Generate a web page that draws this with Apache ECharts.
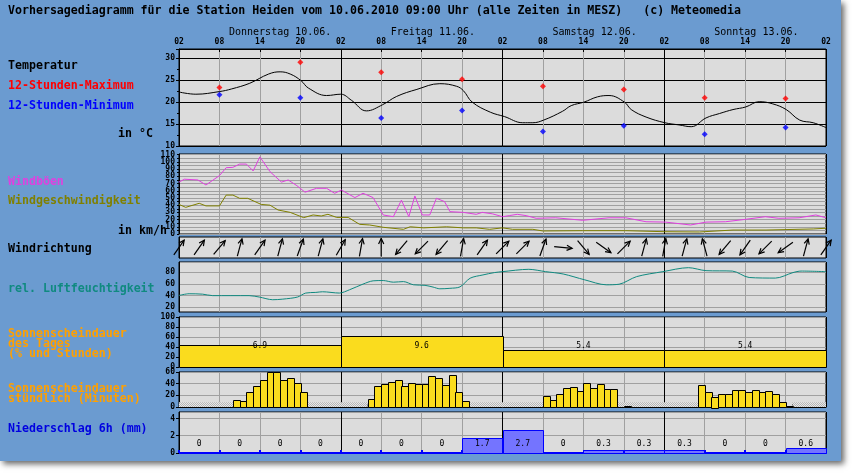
<!DOCTYPE html>
<html><head><meta charset="utf-8">
<script src="https://cdn.jsdelivr.net/npm/echarts/dist/echarts.min.js"></script>
<style>
html,body{margin:0;padding:0;background:#fff;}
#frame{position:absolute;left:0;top:0;width:841px;height:461px;background:#6b9bd0;box-shadow:3px 3px 6px rgba(0,0,0,0.6);}
#c{position:absolute;left:0;top:0;width:852px;height:475px;}
</style>
</head><body><div id="frame"></div><div id="c"></div>
<script>
// ---------- data (hours since Thu 10.06. 02:00 MESZ) ----------
const tempHours = [0,2.5,6,7.8,10.5,13.3,15,16.5,18.1,19.2,21.9,24,25.6,27.8,30.2,32.3,35.3,38.7,41.2,42.2,43.5,46.2,48.3,51,52.5,54.1,56.9,58.2,60.1,62.1,63.8,66.1,67.1,69.3,72.1,74.2,76,78.2,80.2,82.2,84.1,86.1,88.1,90.1,92.1,94.1,96];
const tempValues = [22.3,21.8,22.4,23,24.3,26.4,26.9,26.4,24.9,23.2,21.5,21.8,20.4,18,19.4,21.3,22.9,24.2,23.6,22.6,20,17.7,16.7,15.3,15.3,15.9,17.9,19.2,20,21.2,21.5,20,18.3,16.6,15.3,14.8,14.4,16.4,17.4,18.3,18.9,20.1,19.6,18.3,15.9,15.3,14.2];
const extremeHours = [6,18,30,42,54,66,78,90];
const maxValues = [23.3,29.1,26.8,25.2,23.6,22.9,21.0,20.8];
const minValues = [21.7,21.0,16.4,18.1,13.3,14.6,12.7,14.2];

const gustHours = [0,0.8,2.8,4,6,7,8,9,10,11,12,13.5,15.2,16.2,17.5,18.7,20.4,21.9,23.1,24.1,26.1,27.3,28.8,30.3,31.8,33,34.1,35,36.1,37.2,38.2,39.4,40.2,42.2,44.1,45,46.5,48,49,50.2,51.5,53,55.9,59.9,63.8,66.3,69.3,72.2,75.9,78.2,81.1,84.1,87,89,92,94.5,96];
const gustValues = [72,76,75,68,81,92,92.5,97,97,87.5,107,86.5,72,75,67,58,63.4,63.4,56.5,61,50.5,56.5,50.5,26.4,24,47,24,52.8,26.4,26.4,49.5,45,31,30,27.3,30,28,24,25.5,27.3,25.5,21.8,22.5,19,22.5,22.5,17,16.5,12.5,16.5,17,20.4,24,21.8,22.5,26.4,22.5];
const windHours = [0,1,3,4,6,7,8,9,10.2,12.2,13.5,14.7,16.5,18.5,19.9,21.1,22.1,23.4,25.1,26.8,28.3,30.3,33.3,34.3,36.3,39.7,42.2,44.1,46.1,48,49.5,52.5,54,59.9,66.3,72,77.2,82.2,87.1,94.1,96];
const windValues = [41,37,42.6,39,39,54,54,49.5,49.5,41,40,33.3,30,22.7,26.4,25,27.3,23,23,13.4,12.5,9.3,6.5,10,8.5,10,8.5,8.5,6.5,8.5,6.5,6.5,4.2,4.6,4.6,3.2,2.8,5.5,5.5,7,8];

const dirHours = [0,3,6,9,12,15,18,21,24,27,30,33,36,39,42,45,48,51,54,57,60,63,66,69,72,75,78,81,84,87,90,93,96];
const dirAngles = [35,35,40,15,35,15,20,15,30,10,0,220,225,220,10,35,45,45,20,95,140,125,45,15,10,15,345,220,215,225,235,15,35];

const humHours = [0,1.5,3.5,5,10.4,11.9,13.9,15.4,17.6,18.8,20.3,21.3,23.8,25.3,27.3,28.8,30.3,31.8,33.3,34.8,36.5,37.7,38.7,40.2,41.7,43.2,45.1,46.8,48,51.9,54.4,57,60.2,63.4,65.3,67.9,71.8,75.6,78.2,82.1,84.6,88.5,91.1,92.3,96];
const humValues = [40.3,43.2,42.5,40,40,37.6,33,34,37.6,44.4,45.5,46.6,44.4,50,59.7,65.3,65.8,63,64,58.5,57.6,54.6,51.7,52.5,55,69.8,75.4,79.4,81,85,81,77,67,58.5,59.5,72.5,81,87.8,82.7,82,71,70,79.4,82,81];

const dayStarts = [0,24,48,72];
const daySunPercent = [44,62,34,34];
const daySunLabels = ['6.9','9.6','5.4','5.4'];

const sunHourStarts = [8,9,10,11,12,13,14,15,16,17,18, 28,29,30,31,32,33,34,35,36,37,38,39,40,41,42, 54,55,56,57,58,59,60,61,62,63,64,66, 77,78,79,80,81,82,83,84,85,86,87,88,89,90];
const sunMinutes = [12,10,26,36,46,60,60,47,50,41,26, 14,36,40,43,47,36,41,40,40,53,50,37,55,26,10, 19,12,23,32,35,28,41,33,39,31,31,2, 38,26,18,22,23,29,29,26,29,26,28,23,8,2];
const nightStarts = [0,19,43,65,91];
const nightEnds = [8,28,54,77,96];

const precipStarts = [0,6,12,18,24,30,36,42,48,54,60,66,72,78,84,90];
const precipValues = [0,0,0,0,0,0,0,1.7,2.7,0,0.3,0.3,0.3,0,0,0.6];

const dayNames = ['Donnerstag 10.06.','Freitag 11.06.','Samstag 12.06.','Sonntag 13.06.'];
const tickHoursLabel = function(h){ const c=(h+2)%24; return (c<10?'0':'')+c; };

// ---------- layout ----------
const X0 = 179, XW = 647;
const panels = [
  {top:49, h:97}, {top:154, h:80}, {top:237, h:21}, {top:262, h:50},
  {top:317, h:50}, {top:372, h:35}, {top:412, h:41}
];
const MONO = 'DejaVu Sans Mono';
const PANEL_BG = '#dcdcdc';
const GRAYL = '#a0a0a0';
const labelStyle = {color:'#000', fontSize:8, fontFamily:MONO, fontWeight:'bold', margin:4};

// stipple pattern for night hours
const pc = document.createElement('canvas'); pc.width = 2; pc.height = 2;
const pctx = pc.getContext('2d');
pctx.fillStyle = '#e8e8e8'; pctx.fillRect(0,0,2,2);
pctx.fillStyle = '#b4b4b4'; pctx.fillRect(0,0,1,1); pctx.fillRect(1,1,1,1);

const grid = panels.map(p => ({left:X0, width:XW, top:p.top, height:p.h, show:true,
  backgroundColor:PANEL_BG, borderColor:'#000', borderWidth:1}));

const xAxis = panels.map((p,i) => ({
  gridIndex:i, type:'value', min:0, max:96, interval:6, position:'top',
  axisLine:{show:false}, axisTick:{show:i===0, length:3, inside:true, lineStyle:{color:'#000'}},
  axisLabel: i===0 ? Object.assign({}, labelStyle, {margin:3, formatter:tickHoursLabel}) : {show:false},
  splitLine:{show:true, lineStyle:{color:['#000',GRAYL,GRAYL,GRAYL], width:1}}
}));
xAxis.push({gridIndex:5, type:'value', min:0, max:96, interval:1, position:'bottom',
  axisLine:{show:true, lineStyle:{color:'#000'}}, axisTick:{show:true, inside:true, length:3, lineStyle:{color:'#000'}},
  axisLabel:{show:false}, splitLine:{show:false}});
xAxis.push({gridIndex:6, type:'value', min:0, max:96, interval:6, position:'bottom',
  axisLine:{show:true, lineStyle:{color:'#0000ff', width:2}}, axisTick:{show:true, inside:true, length:3, lineStyle:{color:'#0000ff', width:2}},
  axisLabel:{show:false}, splitLine:{show:false}});

const yBase = (i, o) => Object.assign({gridIndex:i, type:'value',
  axisLine:{show:true, lineStyle:{color:'#000'}},
  axisTick:{show:true, length:3, lineStyle:{color:'#000'}},
  axisLabel:Object.assign({}, labelStyle),
  splitLine:{show:true, lineStyle:{color:GRAYL}}}, o);

const yAxis = [
  yBase(0, {min:10, max:32.1, interval:5, minorTick:{show:true, splitNumber:2, length:2, lineStyle:{color:'#000'}},
    axisLabel:Object.assign({}, labelStyle, {showMaxLabel:false}), splitLine:{show:true, lineStyle:{color:'#000'}}}),
  yBase(1, {min:0, max:111, interval:5, axisTick:{show:true, length:2}, axisLabel:Object.assign({}, labelStyle, {showMaxLabel:false, formatter:v => (v%10===0 ? v : '')})}),
  yBase(2, {min:0, max:1, axisLabel:{show:false}, axisTick:{show:false}, splitLine:{show:false}}),
  yBase(3, {min:12, max:97.5, interval:4, axisTick:{show:false}, axisLabel:Object.assign({}, labelStyle, {showMaxLabel:false, showMinLabel:false, formatter:v => (v%20===0 ? v : '')}),
    splitLine:{show:true, lineStyle:{color:['rgba(0,0,0,0)','rgba(0,0,0,0)',GRAYL,'rgba(0,0,0,0)','rgba(0,0,0,0)']}}}),
  yBase(4, {min:0, max:100, interval:20}),
  yBase(5, {min:0, max:60, interval:20}),
  yBase(6, {min:0, max:4.75, interval:2, axisLabel:Object.assign({}, labelStyle, {showMaxLabel:false})})
];

const zip = (a,b) => a.map((v,i) => [v, b[i]]);

function rectBar(api, s, e, v, fill, stroke){
  const p0 = api.coord([s, v]), p1 = api.coord([e, 0]);
  return {type:'rect', shape:{x:Math.round(p0[0])+0.5, y:Math.round(p0[1])+0.5, width:Math.round(p1[0]-p0[0]), height:Math.round(p1[1]-p0[1])},
    style:{fill:fill, stroke:stroke, lineWidth:1}};
}

const series = [
  {type:'line', xAxisIndex:0, yAxisIndex:0, data:zip(tempHours,tempValues), smooth:0.4, showSymbol:false,
    lineStyle:{color:'#000', width:1}, z:3},
  {type:'scatter', xAxisIndex:0, yAxisIndex:0, data:zip(extremeHours,maxValues), symbol:'diamond', symbolSize:6, itemStyle:{color:'#ff0000'}, z:4},
  {type:'scatter', xAxisIndex:0, yAxisIndex:0, data:zip(extremeHours,minValues), symbol:'diamond', symbolSize:6, itemStyle:{color:'#0000ff'}, z:4},
  {type:'line', xAxisIndex:1, yAxisIndex:1, data:zip(gustHours,gustValues), showSymbol:false, lineStyle:{color:'#e040e0', width:1}},
  {type:'line', xAxisIndex:1, yAxisIndex:1, data:zip(windHours,windValues), showSymbol:false, lineStyle:{color:'#808000', width:1}},
  {type:'custom', xAxisIndex:2, yAxisIndex:2, data:zip(dirHours,dirAngles),
    renderItem:function(params, api){
      const c = api.coord([api.value(0), 0.5]);
      const a = api.value(1)*Math.PI/180;
      const L = 9, hl = 6;
      const dx = Math.sin(a), dy = -Math.cos(a);
      const hx = c[0]+dx*L, hy = c[1]+dy*L, tx = c[0]-dx*L, ty = c[1]-dy*L;
      const a1 = a+Math.PI-0.45, a2 = a+Math.PI+0.45;
      return {type:'group', children:[
        {type:'line', shape:{x1:tx,y1:ty,x2:hx,y2:hy}, style:{stroke:'#000', lineWidth:1.2}},
        {type:'polyline', shape:{points:[[hx+Math.sin(a1)*hl, hy-Math.cos(a1)*hl],[hx,hy],[hx+Math.sin(a2)*hl, hy-Math.cos(a2)*hl]]}, style:{stroke:'#000', fill:null, lineWidth:1.2}}
      ]};
    }},
  {type:'line', xAxisIndex:3, yAxisIndex:3, data:zip(humHours,humValues), smooth:0.3, showSymbol:false, lineStyle:{color:'#108a80', width:1}},
  {type:'custom', xAxisIndex:4, yAxisIndex:4, data:dayStarts.map((s,i)=>[s, s+24, daySunPercent[i], i]),
    renderItem:function(params, api){
      const s = api.value(0), e = api.value(1), v = api.value(2);
      const t = api.coord([(s+e)/2, 42]);
      return {type:'group', children:[
        rectBar(api, s, e, v, '#fadc1e', '#000'),
        {type:'text', style:{x:t[0], y:t[1], text:daySunLabels[params.dataIndex], fill:'#000', font:'8px '+MONO, align:'center', verticalAlign:'middle'}}
      ]};
    }},
  {type:'custom', xAxisIndex:7, yAxisIndex:5, data:nightStarts.map((s,i)=>[s, nightEnds[i]]), z:1,
    renderItem:function(params, api){
      const p0 = api.coord([api.value(0), 8]), p1 = api.coord([api.value(1), 0]);
      return {type:'rect', shape:{x:p0[0], y:p0[1], width:p1[0]-p0[0], height:p1[1]-p0[1]},
        style:{fill:{image:pc, repeat:'repeat'}}};
    }},
  {type:'custom', xAxisIndex:7, yAxisIndex:5, data:sunHourStarts.map((s,i)=>[s, s+1, sunMinutes[i]]),
    renderItem:function(params, api){
      return rectBar(api, api.value(0), api.value(1), api.value(2), '#fadc1e', '#000');
    }},
  {type:'custom', xAxisIndex:8, yAxisIndex:6, data:precipStarts.map((s,i)=>[s, s+6, precipValues[i]]),
    renderItem:function(params, api){
      const s = api.value(0), e = api.value(1), v = api.value(2);
      const t = api.coord([(s+e)/2, 1.04]);
      const ch = [];
      if (v > 0) ch.push(rectBar(api, s, e, v, '#7474ff', '#0000ff'));
      ch.push({type:'text', style:{x:t[0], y:t[1], text:String(v), fill:'#000', font:'8px '+MONO, align:'center', verticalAlign:'middle'}});
      return {type:'group', children:ch};
    }}
];

// ---------- texts ----------
const T = (x, y, text, color) => ({type:'text', x:x, y:y,
  style:{text:text, fill:color, font:'bold 11.6px '+MONO, verticalAlign:'middle'}});
const graphic = [
  T(8, 11, 'Vorhersagediagramm für die Station Heiden vom 10.06.2010 09:00 Uhr (alle Zeiten in MESZ)   (c) Meteomedia', '#000'),
  T(8, 66, 'Temperatur', '#000'),
  T(8, 86, '12-Stunden-Maximum', '#ff0000'),
  T(8, 106, '12-Stunden-Minimum', '#0000ff'),
  T(118, 134, 'in °C', '#000'),
  T(8, 182, 'Windböen', '#e040e0'),
  T(8, 201, 'Windgeschwindigkeit', '#808000'),
  T(118, 231, 'in km/h', '#000'),
  T(8, 249, 'Windrichtung', '#000'),
  T(8, 289, 'rel. Luftfeuchtigkeit', '#108a80'),
  T(8, 334, 'Sonnenscheindauer', '#ffa000'),
  T(8, 344, 'des Tages', '#ffa000'),
  T(8, 354, '(% und Stunden)', '#ffa000'),
  T(8, 389, 'Sonnenscheindauer', '#ffa000'),
  T(8, 399, 'stündlich (Minuten)', '#ffa000'),
  T(8, 429, 'Niederschlag 6h (mm)', '#0000e0')
];
dayNames.forEach((n,i) => {
  graphic.push({type:'text', x: X0 + dayStarts[i]*XW/96 + 50, y:32,
    style:{text:n, fill:'#000', font:'10px '+MONO, verticalAlign:'middle'}});
});

const chart = echarts.init(document.getElementById('c'));
chart.setOption({
  backgroundColor:'transparent',
  animation:false,
  grid:grid, xAxis:xAxis, yAxis:yAxis, series:series, graphic:graphic
});
</script>
</body></html>
